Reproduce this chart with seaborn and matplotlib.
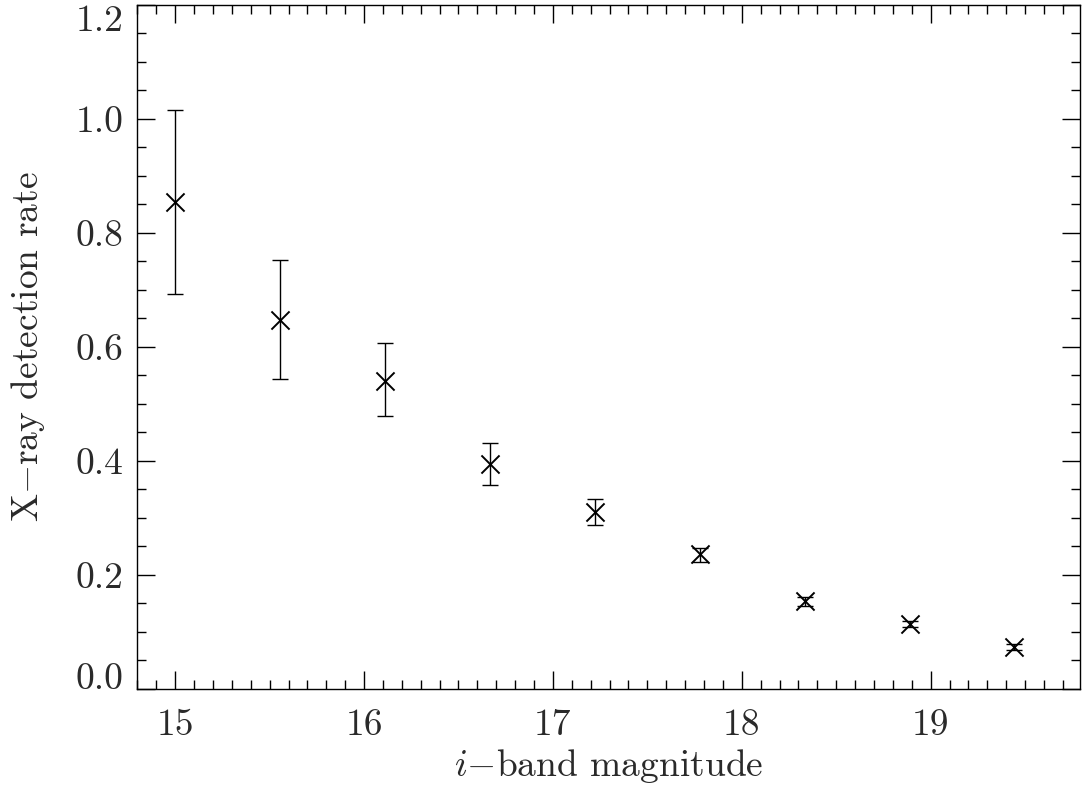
import matplotlib
matplotlib.use("Agg")
import matplotlib.pyplot as plt
import seaborn as sns
import numpy as np
import pandas as pd
from matplotlib.ticker import MultipleLocator, FuncFormatter

# Data
magnitude = [15.00, 15.556, 16.111, 16.667, 17.222, 17.778, 18.333, 18.889, 19.444]
rate = [0.854, 0.648, 0.541, 0.395, 0.311, 0.236, 0.154, 0.114, 0.074]
err_hi = [0.162, 0.105, 0.065, 0.037, 0.022, 0.012, 0.008, 0.006, 0.005]
err_lo = [0.161, 0.105, 0.063, 0.037, 0.023, 0.013, 0.008, 0.006, 0.005]

df = pd.DataFrame({"mag": magnitude, "rate": rate})

sns.set_theme(style="ticks")
plt.rcParams["font.family"] = ["cmr10", "DejaVu Serif"]
plt.rcParams["mathtext.fontset"] = "cm"
plt.rcParams["axes.formatter.use_mathtext"] = True

FS = 27
TC = "#2a2a2a"

fig = plt.figure(figsize=(10.82, 7.99), dpi=100)
ax = fig.add_axes([0.127, 0.1377, 0.998 - 0.127, 0.994 - 0.1377])

ax.errorbar(df["mag"], df["rate"], yerr=[err_lo, err_hi], fmt="none",
            ecolor="black", elinewidth=1.0, capsize=5.5, capthick=1.0)
sns.scatterplot(data=df, x="mag", y="rate", marker="x", s=170, color="black",
                linewidth=1.4, ax=ax, zorder=3)

ax.set_xlim(14.8, 19.79)
ax.set_ylim(0.0, 1.2)
ax.xaxis.set_major_locator(MultipleLocator(1))
ax.xaxis.set_minor_locator(MultipleLocator(0.1))
ax.yaxis.set_major_locator(MultipleLocator(0.2))
ax.yaxis.set_minor_locator(MultipleLocator(0.05))
ax.yaxis.set_major_formatter(FuncFormatter(lambda v, p: f"{v:.1f}"))
ax.xaxis.set_major_formatter(FuncFormatter(lambda v, p: f"{v:.0f}"))

ax.tick_params(which="both", direction="in", top=True, right=True, color="black", width=1.0)
ax.tick_params(axis="x", which="major", length=13, labelsize=FS, pad=14, labelcolor=TC)
ax.tick_params(axis="y", which="major", length=13, labelsize=FS, pad=10, labelcolor=TC)
ax.tick_params(which="minor", length=6.5)
for s in ax.spines.values():
    s.set_linewidth(1.0)
    s.set_color("black")

ax.set_xlabel(r"$i$$-$band magnitude", fontsize=FS, va="center", color=TC)
ax.xaxis.set_label_coords(0.5, -0.113)
ax.set_ylabel(r"X$-$ray detection rate", fontsize=FS, va="center", color=TC)
ax.yaxis.set_label_coords(-0.116, 0.5)

fig.canvas.draw()
for lab in ax.get_yticklabels():
    t = lab.get_text()
    if t == "0.0":
        lab.set_va("baseline")
    elif t == "1.2":
        lab.set_va("top")

fig.savefig("out.png", dpi=100)
